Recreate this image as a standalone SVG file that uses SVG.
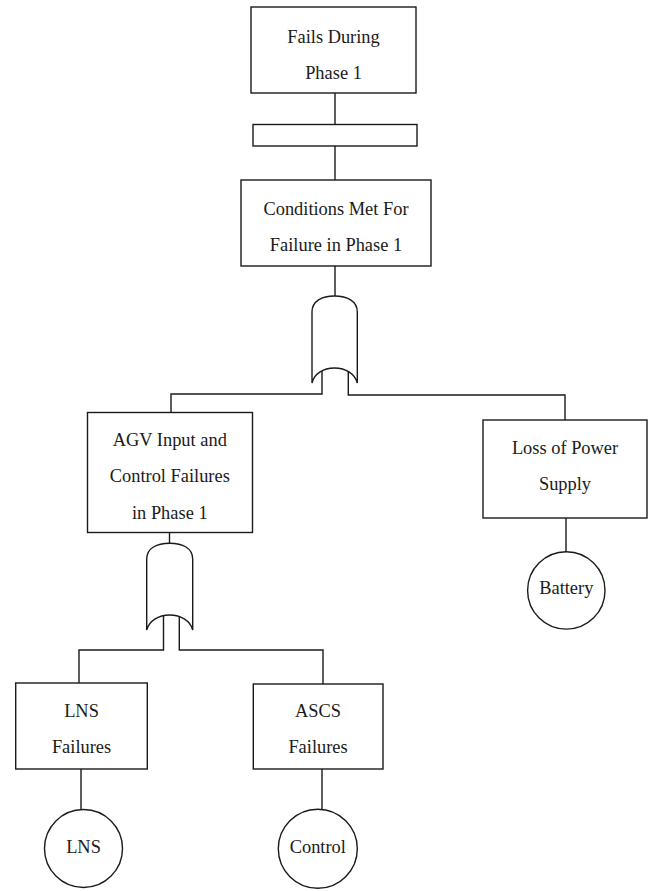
<svg xmlns="http://www.w3.org/2000/svg" width="648" height="891" viewBox="0 0 648 891">
<style>
.b{fill:#fff;stroke:#1a1a1a;stroke-width:1.4}
.c{fill:none;stroke:#1a1a1a;stroke-width:1.4}
.t{font-family:"Liberation Serif","Times New Roman",serif;font-size:18.4px;fill:#1a1a1a;text-anchor:middle}
</style>
<rect width="648" height="891" fill="#fff"/>
<g id="connectors" class="c">
<path d="M335,93 V124.5"/>
<path d="M335,146 V180"/>
<path d="M335,266 V297"/>
<path d="M322,365 V394 H171 V412.5"/>
<path d="M348.3,365 V395 H565 V420"/>
<path d="M169.5,532.5 V544"/>
<path d="M163.5,612 V650 H79 V683"/>
<path d="M179.3,612 V650 H323 V684"/>
<path d="M81,769 V809.5"/>
<path d="M322,769 V809.5"/>
<path d="M566,518 V552"/>
</g>
<g id="top">
<rect class="b" x="251" y="7" width="165" height="86"/>
<text class="t" x="333.5" y="43">Fails During</text>
<text class="t" x="333.5" y="79">Phase 1</text>
</g>
<g id="transfer">
<rect class="b" x="253" y="124.5" width="164" height="21.5"/>
</g>
<g id="conditions">
<rect class="b" x="241" y="180" width="190" height="86"/>
<text class="t" x="336" y="215">Conditions Met For</text>
<text class="t" x="336" y="251">Failure in Phase 1</text>
</g>
<g id="gate1">
<path class="b" d="M312,383 V312 C312,301 322,296 334.5,296 C347,296 357.3,301 357.3,312 V383 C355,374 346,368 334.5,368 C323,368 314,374 312,383 Z"/>
</g>
<g id="agv">
<rect class="b" x="87.5" y="412.5" width="165" height="120"/>
<text class="t" x="169.8" y="445.7">AGV Input and</text>
<text class="t" x="169.8" y="482.3">Control Failures</text>
<text class="t" x="169.8" y="519">in Phase 1</text>
</g>
<g id="power">
<rect class="b" x="483" y="420" width="164" height="98"/>
<text class="t" x="565" y="454">Loss of Power</text>
<text class="t" x="565" y="490">Supply</text>
</g>
<g id="battery">
<circle class="b" cx="566.3" cy="590.4" r="38.7"/>
<text class="t" x="566.3" y="594">Battery</text>
</g>
<g id="gate2">
<path class="b" d="M146.7,630 V559 C146.7,548 157,543.3 169.7,543.3 C182.4,543.3 192.7,548 192.7,559 V630 C190.5,621 181,615 169.7,615 C158.4,615 149,621 146.7,630 Z"/>
</g>
<g id="lnsfail">
<rect class="b" x="15.7" y="683" width="131.6" height="86"/>
<text class="t" x="81.5" y="717">LNS</text>
<text class="t" x="81.5" y="753">Failures</text>
</g>
<g id="ascsfail">
<rect class="b" x="253.3" y="684" width="129.7" height="85"/>
<text class="t" x="318" y="717">ASCS</text>
<text class="t" x="318" y="753">Failures</text>
</g>
<g id="lns">
<circle class="b" cx="83.5" cy="848.5" r="39"/>
<text class="t" x="83.5" y="853">LNS</text>
</g>
<g id="control">
<circle class="b" cx="317.8" cy="848.7" r="39.5"/>
<text class="t" x="317.8" y="853">Control</text>
</g>
</svg>
